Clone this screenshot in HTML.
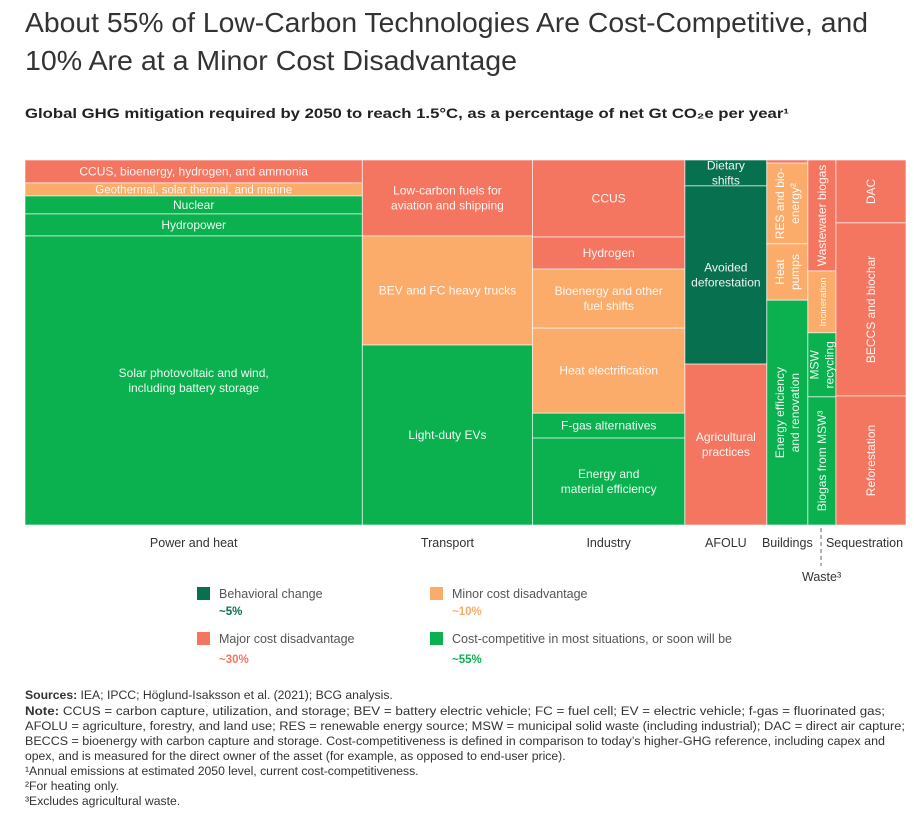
<!DOCTYPE html>
<html><head><meta charset="utf-8">
<style>
html,body{margin:0;background:#fff;width:914px;height:821px;overflow:hidden;font-family:"Liberation Sans",sans-serif;}
svg{display:block;}
svg text{font-family:"Liberation Sans",sans-serif;}
</style></head>
<body>
<svg id="chart" width="914" height="821" viewBox="0 0 914 821">
<text x="25" y="32" font-size="27.5" fill="#333" textLength="843" lengthAdjust="spacingAndGlyphs">About 55% of Low-Carbon Technologies Are Cost-Competitive, and</text>
<text x="25" y="70" font-size="27.5" fill="#333" textLength="492" lengthAdjust="spacingAndGlyphs">10% Are at a Minor Cost Disadvantage</text>
<text transform="translate(25,118) scale(1.24,1)" x="0" y="0" font-size="13.5" font-weight="bold" fill="#222">Global GHG mitigation required by 2050 to reach 1.5°C, as a percentage of net Gt CO₂e per year¹</text>
<g id="cells"></g>
<g id="cats"></g>
<line x1="821" y1="528" x2="821" y2="566" stroke="#666" stroke-dasharray="4,3"/>
<text x="802" y="581" font-size="12.5" fill="#333">Waste³</text>
<g font-size="12.5">
<rect x="197" y="587" width="13" height="13" fill="#07704f"/>
<text x="219" y="598" fill="#555">Behavioral change</text>
<text x="219" y="615" fill="#07704f" font-weight="bold" font-size="11.5">~5%</text>
<rect x="430" y="587" width="13" height="13" fill="#fbab6a"/>
<text x="452" y="598" fill="#555">Minor cost disadvantage</text>
<text x="452" y="615" fill="#fbab6a" font-weight="bold" font-size="11.5">~10%</text>
<rect x="197" y="632" width="13" height="13" fill="#f47560"/>
<text x="219" y="643" fill="#555">Major cost disadvantage</text>
<text x="219" y="663" fill="#f47560" font-weight="bold" font-size="11.5">~30%</text>
<rect x="430" y="632" width="13" height="13" fill="#0bb14f"/>
<text x="452" y="643" fill="#555">Cost-competitive in most situations, or soon will be</text>
<text x="452" y="663" fill="#0bb14f" font-weight="bold" font-size="11.5">~55%</text>
</g>
<g font-size="12.2" fill="#333">
<text x="25" y="699"><tspan font-weight="bold">Sources:</tspan> IEA; IPCC; Höglund-Isaksson et al. (2021); BCG analysis.</text>
<text x="25" y="715" textLength="860" lengthAdjust="spacingAndGlyphs"><tspan font-weight="bold">Note:</tspan> CCUS = carbon capture, utilization, and storage; BEV = battery electric vehicle; FC = fuel cell; EV = electric vehicle; f-gas = fluorinated gas;</text>
<text x="25" y="730" textLength="880" lengthAdjust="spacingAndGlyphs">AFOLU = agriculture, forestry, and land use; RES = renewable energy source; MSW = municipal solid waste (including industrial); DAC = direct air capture;</text>
<text x="25" y="745" textLength="860" lengthAdjust="spacingAndGlyphs">BECCS = bioenergy with carbon capture and storage. Cost-competitiveness is defined in comparison to today’s higher-GHG reference, including capex and</text>
<text x="25" y="760">opex, and is measured for the direct owner of the asset (for example, as opposed to end-user price).</text>
<text x="25" y="775">¹Annual emissions at estimated 2050 level, current cost-competitiveness.</text>
<text x="25" y="790">²For heating only.</text>
<text x="25" y="805">³Excludes agricultural waste.</text>
</g>
</svg>
<script>
const categories = ["Power and heat","Transport","Industry","AFOLU","Buildings","Waste","Sequestration"];
const segLabels = [
 [["CCUS, bioenergy, hydrogen, and ammonia"],["Geothermal, solar thermal, and marine"],["Nuclear"],["Hydropower"],["Solar photovoltaic and wind,","including battery storage"]],
 [["Low-carbon fuels for","aviation and shipping"],["BEV and FC heavy trucks"],["Light-duty EVs"]],
 [["CCUS"],["Hydrogen"],["Bioenergy and other","fuel shifts"],["Heat electrification"],["F-gas alternatives"],["Energy and","material efficiency"]],
 [["Dietary","shifts"],["Avoided","deforestation"],["Agricultural","practices"]],
 [[""],["RES and bio-","energy²"],["Heat","pumps"],["Energy efficiency","and renovation"]],
 [["Wastewater biogas"],["Incineration"],["MSW","recycling"],["Biogas from MSW³"]],
 [["DAC"],["BECCS and biochar"],["Reforestation"]]
];
const segValues = [
 [2.41,1.36,1.89,2.31,30.33],
 [4.02,5.77,9.52],
 [3.65,1.52,2.80,4.03,1.18,4.12],
 [0.66,4.54,4.10],
 [0.04,1.03,0.72,2.87],
 [0.97,0.54,0.56,1.12],
 [1.37,3.77,2.81]
];
const segTypes = [
 ["major","minor","comp","comp","comp"],
 ["major","minor","comp"],
 ["major","major","minor","minor","comp","comp"],
 ["beh","beh","major"],
 ["major","minor","minor","comp"],
 ["major","minor","comp","comp"],
 ["major","major","major"]
];
const colors={major:"#f47560",minor:"#fbab6a",comp:"#0bb14f",beh:"#07704f"};
const X0=25,X1=906,Y0=160,Y1=525,NS="http://www.w3.org/2000/svg";
const colSums=segValues.map(a=>a.reduce((s,v)=>s+v,0));
const total=colSums.reduce((s,v)=>s+v,0);
const xScale=v=>v/total*(X1-X0);
const cells=document.getElementById('cells'),cats=document.getElementById('cats');
const rotated=[false,false,false,false,true,true,true];
let x=X0;
segValues.forEach((col,ci)=>{
  const w=xScale(colSums[ci]);let y=Y0;
  col.forEach((v,si)=>{
    const h=v/colSums[ci]*(Y1-Y0);
    const r=document.createElementNS(NS,'rect');
    r.setAttribute('x',x);r.setAttribute('y',y);r.setAttribute('width',w);r.setAttribute('height',h);
    r.setAttribute('fill',colors[segTypes[ci][si]]);r.setAttribute('stroke','rgba(255,255,255,0.6)');r.setAttribute('stroke-width','1');
    
    
    cells.appendChild(r);
    const lines=segLabels[ci][si];
    const rot=rotated[ci];
    const cx=x+w/2,cy=y+h/2;
    const g=document.createElementNS(NS,'text');
    
    
    let fs=12;if(ci===5&&si===1)fs=9.5;if(ci===0&&(si===1))fs=11.5;
    g.setAttribute('font-size',fs);g.setAttribute('fill','rgba(255,255,255,0.93)');g.setAttribute('text-anchor','middle');
    if(rot)g.setAttribute('transform','rotate(-90 '+cx+' '+cy+')');
    const lh=15,start=cy-(lines.length-1)*lh/2+4;
    lines.forEach((t,li)=>{const ts=document.createElementNS(NS,'tspan');ts.setAttribute('x',cx);ts.setAttribute('y',start+li*lh);ts.textContent=t;g.appendChild(ts);});
    cells.appendChild(g);
    y+=h;
  });
  if(ci!==5){
    const t=document.createElementNS(NS,'text');
    
    
    let tx=x+w/2,anchor='middle';
    if(ci===6){tx=x-10;anchor='start';}
    t.setAttribute('x',tx);t.setAttribute('y',547);t.setAttribute('font-size','12.5');t.setAttribute('fill','#333');t.setAttribute('text-anchor',anchor);
    t.textContent=categories[ci];cats.appendChild(t);
  }
  x+=w;
});
</script>
</body></html>
